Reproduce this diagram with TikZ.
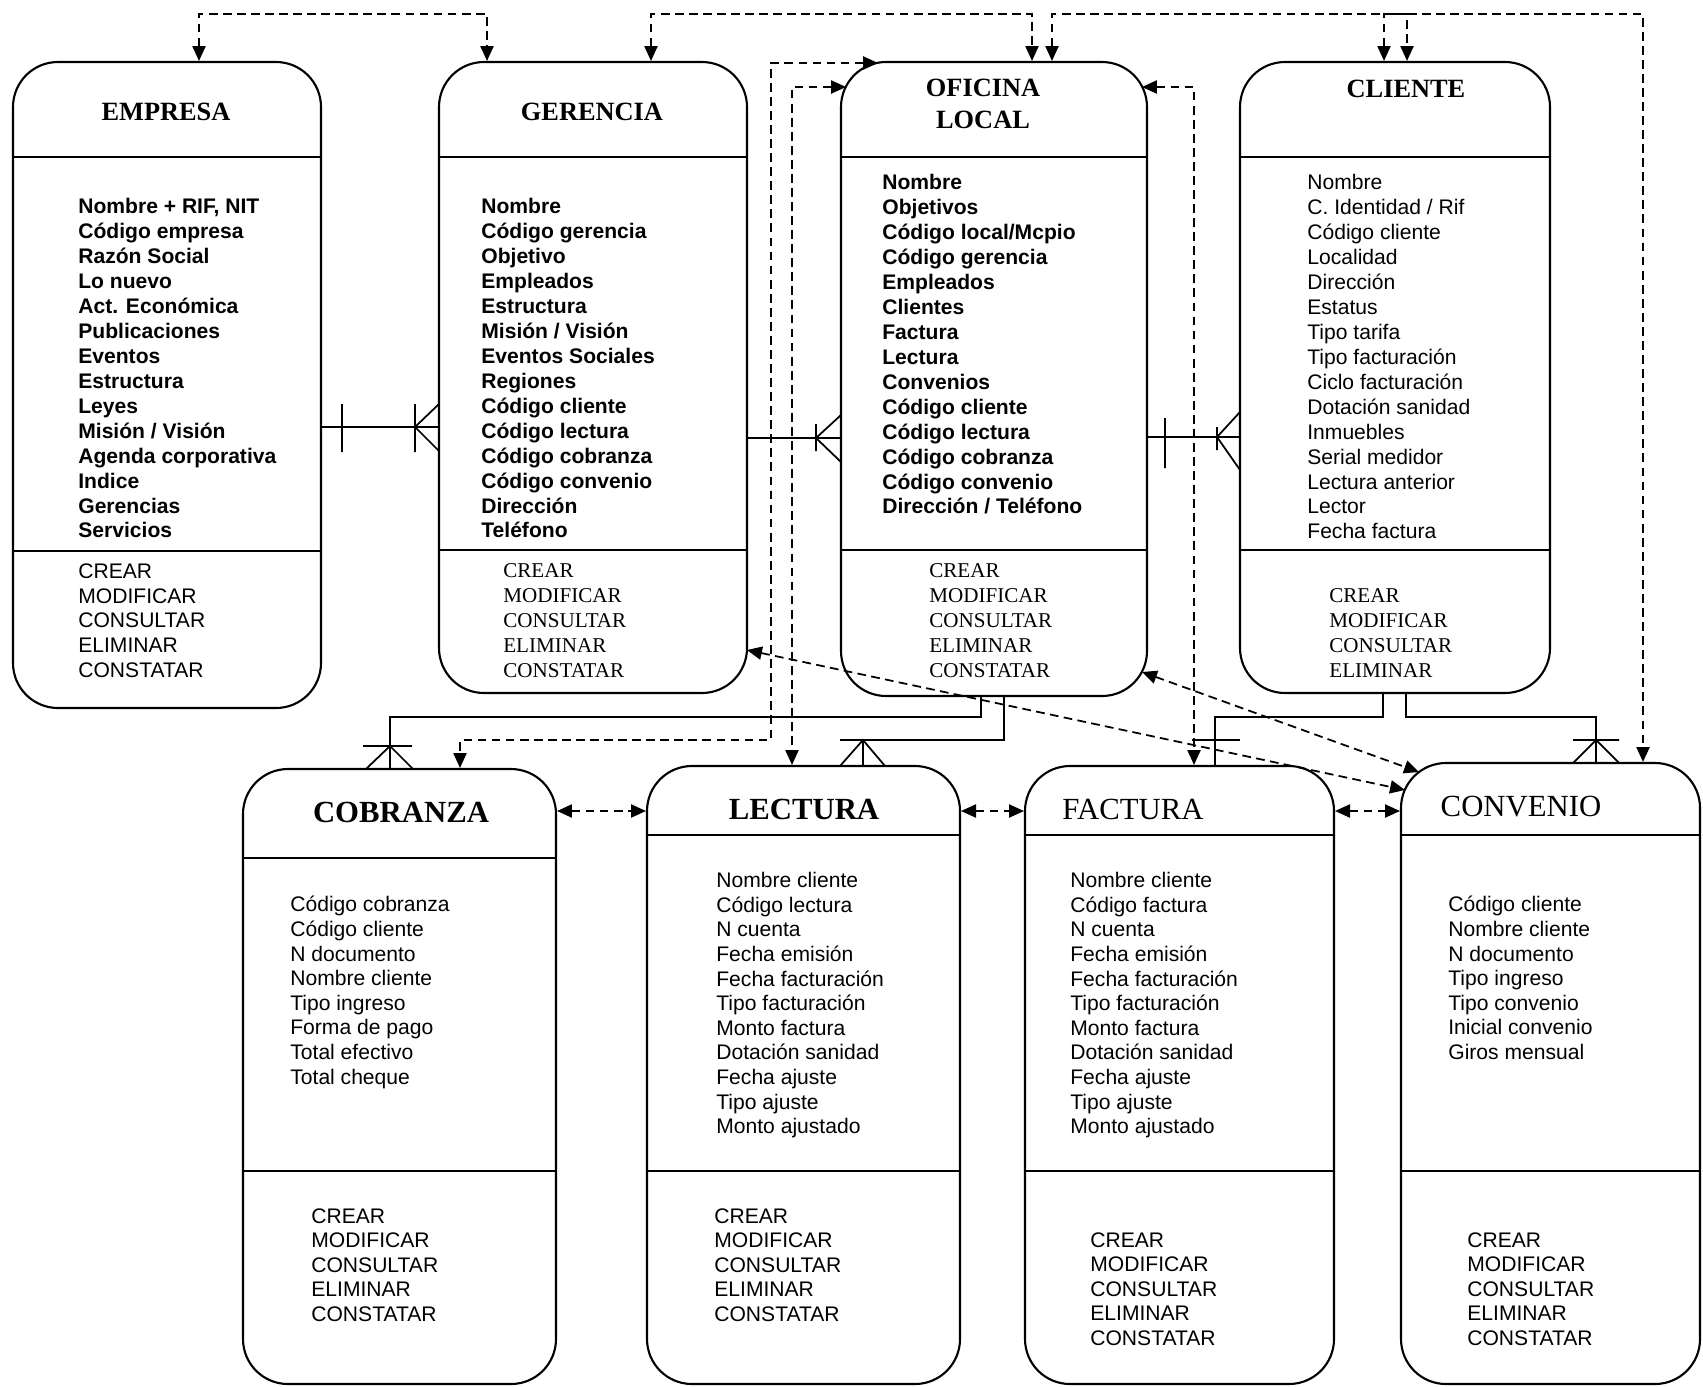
\documentclass[tikz,border=0pt]{standalone}
\usepackage{fontspec}
\setmainfont{Liberation Serif}
\setsansfont{Liberation Sans}
\usetikzlibrary{arrows.meta,fit,calc}

\tikzset{
  entidad/.style={draw, line width=1.2pt, rounded corners=0.9cm, inner sep=0pt},
  titulo/.style={font=\rmfamily\bfseries\fontsize{15}{18.5}\selectfont, align=center, inner sep=0pt},
  titulo2/.style={titulo, font=\rmfamily\bfseries\fontsize{17.5}{20}\selectfont},
  titulo3/.style={titulo, font=\rmfamily\fontsize{17.5}{20}\selectfont},
  atrib/.style={font=\sffamily\bfseries\fontsize{12}{14.2}\selectfont, align=left, anchor=north west, inner sep=0pt},
  atrib2/.style={atrib, font=\sffamily\fontsize{12}{14.2}\selectfont},
  atrib3/.style={atrib, font=\sffamily\fontsize{12}{14}\selectfont},
  metodo/.style={atrib, font=\rmfamily\fontsize{12}{14.2}\selectfont}
}

\begin{document}
\begin{tikzpicture}[x=0.02cm,y=-0.02cm,>={Triangle[length=8.5pt,width=7.5pt]},
    enlace/.style={dash pattern=on 5pt off 3pt, line width=1pt, <->},
    rel/.style={line width=1pt}]
  \useasboundingbox (0,0) rectangle (1703,1386);

  % entidades
  \node[entidad, fit={(13,62) (321,708)}] (emp) {};
  \node[entidad, fit={(439,62) (747,693)}] (ger) {};
  \node[entidad, fit={(841,62) (1147,696)}] (ofi) {};
  \node[entidad, fit={(1240,62) (1550,693)}] (cli) {};
  \node[entidad, fit={(243,769) (556,1384)}] (cob) {};
  \node[entidad, fit={(647,766) (960,1384)}] (lec) {};
  \node[entidad, fit={(1025,766) (1334,1384)}] (fac) {};
  \node[entidad, fit={(1401,763) (1700,1384)}] (con) {};

  \draw[line width=1.2pt] (emp.west |- 0,157) -- (emp.east |- 0,157) (emp.west |- 0,551) -- (emp.east |- 0,551);
  \draw[line width=1.2pt] (ger.west |- 0,157) -- (ger.east |- 0,157) (ger.west |- 0,550) -- (ger.east |- 0,550);
  \draw[line width=1.2pt] (ofi.west |- 0,157) -- (ofi.east |- 0,157) (ofi.west |- 0,550) -- (ofi.east |- 0,550);
  \draw[line width=1.2pt] (cli.west |- 0,157) -- (cli.east |- 0,157) (cli.west |- 0,550) -- (cli.east |- 0,550);
  \draw[line width=1.2pt] (cob.west |- 0,858) -- (cob.east |- 0,858) (cob.west |- 0,1171) -- (cob.east |- 0,1171);
  \draw[line width=1.2pt] (lec.west |- 0,835) -- (lec.east |- 0,835) (lec.west |- 0,1171) -- (lec.east |- 0,1171);
  \draw[line width=1.2pt] (fac.west |- 0,835) -- (fac.east |- 0,835) (fac.west |- 0,1171) -- (fac.east |- 0,1171);
  \draw[line width=1.2pt] (con.west |- 0,835) -- (con.east |- 0,835) (con.west |- 0,1171) -- (con.east |- 0,1171);

  % titulos
  \node[titulo] (emp-t) at (166,112) {EMPRESA};
  \node[titulo] (ger-t) at (592,112) {GERENCIA};
  \node[titulo] (ofi-t) at (983,104) {OFICINA\\LOCAL};
  \node[titulo] (cli-t) at (1406,89) {CLIENTE};
  \node[titulo2] (cob-t) at (401,812) {COBRANZA};
  \node[titulo2] (lec-t) at (804,809) {LECTURA};
  \node[titulo3] (fac-t) at (1133,809) {FACTURA};
  \node[titulo3] (con-t) at (1521,807) {CONVENIO};

  % atributos
  \node[atrib] (emp-a) at (78,198) {Nombre + RIF, NIT\\Código empresa\\Razón Social\\Lo nuevo\\Act. Económica\\Publicaciones\\Eventos\\Estructura\\Leyes\\Misión / Visión\\Agenda corporativa\\Indice\\Gerencias\\Servicios};
  \node[atrib] (ger-a) at (481,198) {Nombre\\Código gerencia\\Objetivo\\Empleados\\Estructura\\Misión / Visión\\Eventos Sociales\\Regiones\\Código cliente\\Código lectura\\Código cobranza\\Código convenio\\Dirección\\Teléfono};
  \node[atrib] (ofi-a) at (882,174) {Nombre\\Objetivos\\Código local/Mcpio\\Código gerencia\\Empleados\\Clientes\\Factura\\Lectura\\Convenios\\Código cliente\\Código lectura\\Código cobranza\\Código convenio\\Dirección / Teléfono};
  \node[atrib2] (cli-a) at (1307,174) {Nombre\\C. Identidad / Rif\\Código cliente\\Localidad\\Dirección\\Estatus\\Tipo tarifa\\Tipo facturación\\Ciclo facturación\\Dotación sanidad\\Inmuebles\\Serial medidor\\Lectura anterior\\Lector\\Fecha factura};
  \node[atrib3] (cob-a) at (290,896) {Código cobranza\\Código cliente\\N documento\\Nombre cliente\\Tipo ingreso\\Forma de pago\\Total efectivo\\Total cheque};
  \node[atrib3] (lec-a) at (716,872) {Nombre cliente\\Código lectura\\N cuenta\\Fecha emisión\\Fecha facturación\\Tipo facturación\\Monto factura\\Dotación sanidad\\Fecha ajuste\\Tipo ajuste\\Monto ajustado};
  \node[atrib3] (fac-a) at (1070,872) {Nombre cliente\\Código factura\\N cuenta\\Fecha emisión\\Fecha facturación\\Tipo facturación\\Monto factura\\Dotación sanidad\\Fecha ajuste\\Tipo ajuste\\Monto ajustado};
  \node[atrib3] (con-a) at (1448,896) {Código cliente\\Nombre cliente\\N documento\\Tipo ingreso\\Tipo convenio\\Inicial convenio\\Giros mensual};

  % metodos
  \node[atrib2] (emp-m) at (78,563) {CREAR\\MODIFICAR\\CONSULTAR\\ELIMINAR\\CONSTATAR};
  \node[metodo] (ger-m) at (503,563) {CREAR\\MODIFICAR\\CONSULTAR\\ELIMINAR\\CONSTATAR};
  \node[metodo] (ofi-m) at (929,563) {CREAR\\MODIFICAR\\CONSULTAR\\ELIMINAR\\CONSTATAR};
  \node[metodo] (cli-m) at (1329,588) {CREAR\\MODIFICAR\\CONSULTAR\\ELIMINAR};
  \node[atrib3] (cob-m) at (311,1208) {CREAR\\MODIFICAR\\CONSULTAR\\ELIMINAR\\CONSTATAR};
  \node[atrib3] (lec-m) at (714,1208) {CREAR\\MODIFICAR\\CONSULTAR\\ELIMINAR\\CONSTATAR};
  \node[atrib3] (fac-m) at (1090,1232) {CREAR\\MODIFICAR\\CONSULTAR\\ELIMINAR\\CONSTATAR};
  \node[atrib3] (con-m) at (1467,1232) {CREAR\\MODIFICAR\\CONSULTAR\\ELIMINAR\\CONSTATAR};

  % relaciones
  \draw[rel] (emp.east |- 0,427) -- (ger.west |- 0,427);
  \draw[rel] (342,404) -- (342,452) (415,404) -- (415,452) (439,404) -- (415,427) -- (439,451);
  \draw[rel] (ger.east |- 0,438) -- (ofi.west |- 0,438);
  \draw[rel] (816,424) -- (816,451) (841,415) -- (816,438) -- (841,462);
  \draw[rel] (ofi.east |- 0,437) -- (cli.west |- 0,437);
  \draw[rel] (1165,418) -- (1165,468) (1217,427) -- (1217,450) (1240,412) -- (1217,437) -- (1240,470);

  \draw[rel] (ofi.south -| 981,0) |- (390,717) -- (cob.north -| 390,0);
  \draw[rel] (363,746) -- (412,746) (366,769) -- (390,746) -- (413,769);
  \draw[rel] (ofi.south -| 1004,0) |- (840,740);
  \draw[rel] (863,740) -- (lec.north -| 863,0) (840,766) -- (863,740) -- (885,766);
  \draw[rel] (cli.south -| 1383,0) |- (1215,717) -- (fac.north -| 1215,0);
  \draw[rel] (1192,740) -- (1240,740);
  \draw[rel] (cli.south -| 1406,0) |- (1596,717) -- (con.north -| 1596,0);
  \draw[rel] (1573,740) -- (1619,740) (1573,763) -- (1596,740) -- (1619,763);

  % enlaces
  \coordinate (ofi-p1) at (878,63);
  \coordinate (ofi-p2) at (846,87);
  \coordinate (ofi-p3) at (1142,87);
  \coordinate (ofi-p4) at (1142,672);
  \coordinate (ger-p1) at (747,650);
  \coordinate (con-p1) at (1419,772);
  \coordinate (con-p2) at (1405,790);

  \draw[enlace] (emp.north -| 199,0) |- (487,14) -- (ger.north -| 487,0);
  \draw[enlace] (ger.north -| 651,0) |- (1032,14) -- (ofi.north -| 1032,0);
  \draw[enlace] (ofi.north -| 1052,0) |- (1407,14) -- (cli.north -| 1407,0);
  \draw[enlace] (cli.north -| 1384,0) |- (1643,14) -- (con.north -| 1643,0);

  \draw[enlace] (ofi-p1) -- (771,63) -- (771,740) -- (460,740) -- (cob.north -| 460,0);
  \draw[enlace] (ofi-p2) -- (792,87) -- (lec.north -| 792,0);
  \draw[enlace] (ofi-p3) -- (1194,87) -- (fac.north -| 1194,0);
  \draw[enlace] (ger-p1) -- (con-p2);
  \draw[enlace] (ofi-p4) -- (con-p1);

  \draw[enlace] (cob.east |- 0,811) -- (lec.west |- 0,811);
  \draw[enlace] (lec.east |- 0,811) -- (fac.west |- 0,811);
  \draw[enlace] (fac.east |- 0,811) -- (con.west |- 0,811);
\end{tikzpicture}
\end{document}
